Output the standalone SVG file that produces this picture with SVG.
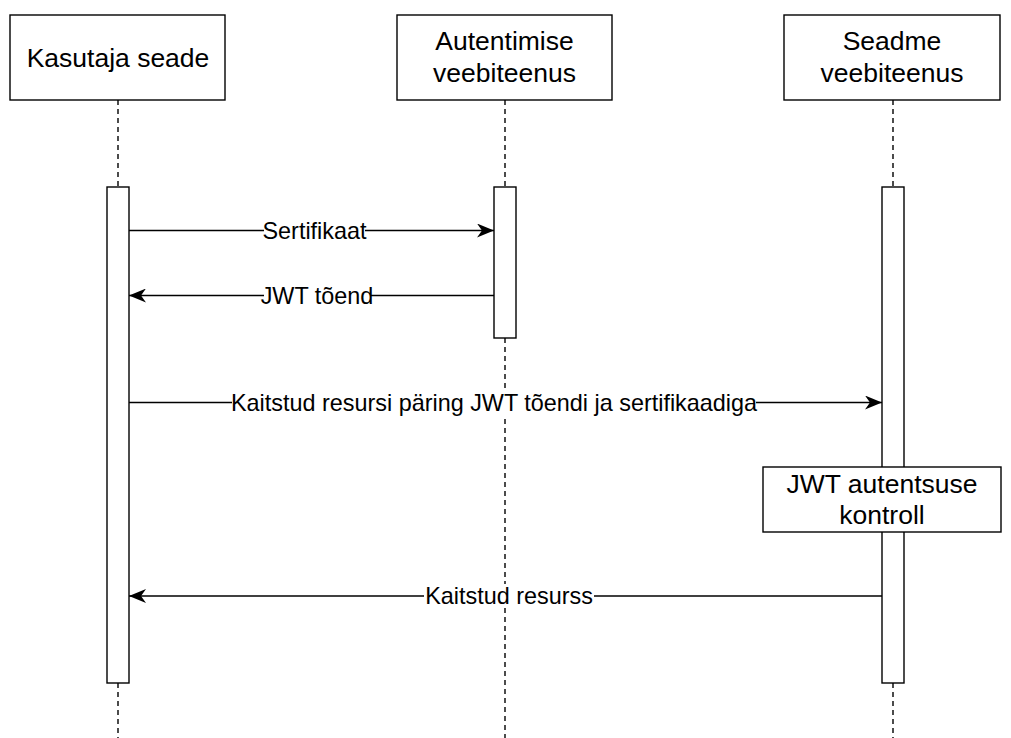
<svg xmlns="http://www.w3.org/2000/svg" width="1011" height="738" viewBox="0 0 1011 738">
<defs>
<style>
.box{fill:#fff;stroke:#000;stroke-width:1.4}
.life{stroke:#000;stroke-width:1.4;stroke-dasharray:5 4;fill:none}
.msg{stroke:#000;stroke-width:1.4;fill:none}
.t{font-family:"Liberation Sans",Arial,sans-serif;font-size:26.5px;fill:#000;text-anchor:middle}
.l{font-family:"Liberation Sans",Arial,sans-serif;font-size:23.4px;fill:#000;text-anchor:middle}
.bg{fill:#fff}
</style>
<marker id="arr" viewBox="0 0 17 14" refX="17" refY="7" markerWidth="17" markerHeight="14" markerUnits="userSpaceOnUse" orient="auto">
<path d="M0,0 L17,7 L0,14 L5,7 Z" fill="#000"/>
</marker>
</defs>
<rect width="1011" height="738" fill="#fff"/>
<g id="lifelines">
<line class="life" x1="118" y1="100" x2="118" y2="187"/>
<line class="life" x1="118" y1="683" x2="118" y2="738"/>
<line class="life" x1="505" y1="100" x2="505" y2="187"/>
<line class="life" x1="505" y1="338" x2="505" y2="738"/>
<line class="life" x1="893" y1="100" x2="893" y2="187"/>
<line class="life" x1="893" y1="683" x2="893" y2="738"/>
</g>
<g id="kasutaja">
<rect class="box" x="10" y="15" width="215" height="85"/>
<text class="t" x="118" y="67">Kasutaja seade</text>
</g>
<g id="autentimise">
<rect class="box" x="397" y="15" width="215" height="85"/>
<text class="t" x="504.5" y="50">Autentimise</text>
<text class="t" x="504.5" y="82">veebiteenus</text>
</g>
<g id="seadme">
<rect class="box" x="784" y="15" width="216" height="85"/>
<text class="t" x="892" y="50">Seadme</text>
<text class="t" x="892" y="82">veebiteenus</text>
</g>
<g id="act1"><rect class="box" x="107" y="187" width="22" height="496"/></g>
<g id="act2"><rect class="box" x="494" y="187" width="22" height="151"/></g>
<g id="act3"><rect class="box" x="882" y="187" width="22" height="496"/></g>
<g id="kontroll">
<rect class="box" x="763" y="467" width="238" height="65"/>
<text class="t" x="882" y="493">JWT autentsuse</text>
<text class="t" x="882" y="524">kontroll</text>
</g>
<g id="connectors">
<line class="msg" x1="129" y1="230.5" x2="494" y2="230.5" marker-end="url(#arr)"/>
<rect class="bg" x="264" y="219" width="101" height="24"/>
<text class="l" x="314.5" y="239">Sertifikaat</text>
<line class="msg" x1="494" y1="295.5" x2="129" y2="295.5" marker-end="url(#arr)"/>
<rect class="bg" x="264" y="284" width="106" height="24"/>
<text class="l" x="317" y="304">JWT tõend</text>
<line class="msg" x1="129" y1="402.5" x2="882" y2="402.5" marker-end="url(#arr)"/>
<rect class="bg" x="232" y="391" width="524" height="24"/>
<text class="l" x="494" y="411">Kaitstud resursi päring JWT tõendi ja sertifikaadiga</text>
<line class="msg" x1="882" y1="596" x2="129" y2="596" marker-end="url(#arr)"/>
<rect class="bg" x="424" y="584" width="170" height="24"/>
<text class="l" x="509" y="604">Kaitstud resurss</text>
</g>
</svg>
